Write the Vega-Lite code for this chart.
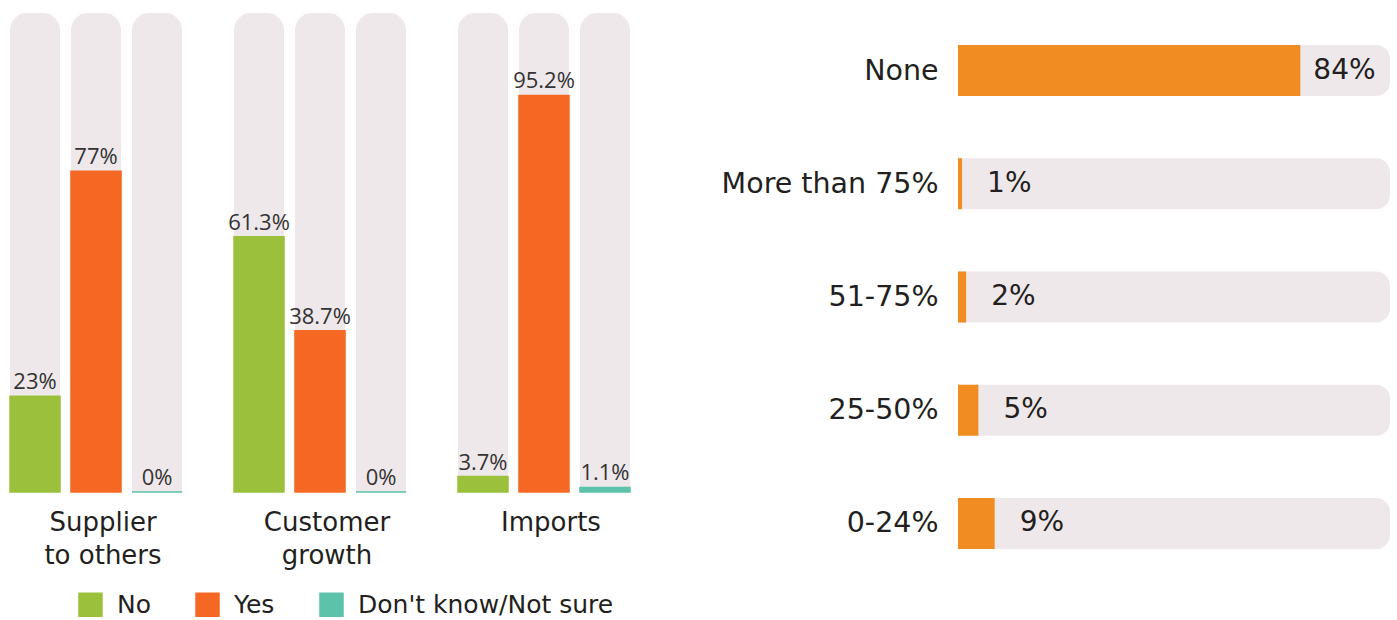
{
  "$schema": "https://vega.github.io/schema/vega-lite/v6.json",
  "padding": {"left": 0, "top": 13, "right": 0, "bottom": 0},
  "background": "white",
  "config": {"view": {"stroke": null}, "legend": {"padding": 0}},
  "bounds": "flush",
  "spacing": 318,
  "hconcat": [
    {
      "width": 640,
      "height": 479,
      "data": {
        "values": [
          {"group": "Supplier to others", "series": "No", "value": 23, "label": "23%"},
          {"group": "Supplier to others", "series": "Yes", "value": 77, "label": "77%"},
          {"group": "Supplier to others", "series": "Don't know/Not sure", "value": 0, "label": "0%"},
          {"group": "Customer growth", "series": "No", "value": 61.3, "label": "61.3%"},
          {"group": "Customer growth", "series": "Yes", "value": 38.7, "label": "38.7%"},
          {"group": "Customer growth", "series": "Don't know/Not sure", "value": 0, "label": "0%"},
          {"group": "Imports", "series": "No", "value": 3.7, "label": "3.7%"},
          {"group": "Imports", "series": "Yes", "value": 95.2, "label": "95.2%"},
          {"group": "Imports", "series": "Don't know/Not sure", "value": 1.1, "label": "1.1%"}
        ]
      },
      "encoding": {
        "x": {
          "field": "group",
          "type": "nominal",
          "sort": ["Supplier to others", "Customer growth", "Imports"],
          "scale": {"paddingInner": 0.232, "paddingOuter": 0.0446},
          "axis": {
            "title": null,
            "domain": false,
            "ticks": false,
            "labelAngle": 0,
            "labelBaseline": "top",
            "labelFont": "DejaVu Sans",
            "labelFontSize": 26,
            "labelColor": "#231F20",
            "labelLineHeight": 33,
            "labelPadding": 17,
            "labelOffset": 7,
            "labelExpr": "datum.label == 'Supplier to others' ? ['Supplier', 'to others'] : datum.label == 'Customer growth' ? ['Customer', 'growth'] : datum.label"
          }
        },
        "xOffset": {
          "field": "series",
          "type": "nominal",
          "sort": ["No", "Yes", "Don't know/Not sure"],
          "scale": {"paddingInner": 0.18, "paddingOuter": 0}
        }
      },
      "layer": [
        {
          "mark": {"type": "bar", "color": "#EEE8EA", "cornerRadiusTopLeft": 17, "cornerRadiusTopRight": 17},
          "encoding": {
            "y": {"datum": 115, "type": "quantitative", "scale": {"domain": [0, 115]}, "axis": null}
          }
        },
        {
          "mark": {"type": "bar", "strokeWidth": 1.5},
          "encoding": {
            "y": {"field": "value", "type": "quantitative", "scale": {"domain": [0, 115]}, "axis": null},
            "color": {
              "field": "series",
              "type": "nominal",
              "scale": {"domain": ["No", "Yes", "Don't know/Not sure"], "range": ["#9BC13C", "#F46824", "#5CC2AA"]},
              "legend": {
                "orient": "none",
                "legendX": 78,
                "legendY": 579,
                "direction": "horizontal",
                "title": null,
                "symbolType": "square",
                "symbolSize": 600,
                "symbolStrokeWidth": 0,
                "labelFont": "DejaVu Sans",
                "labelFontSize": 25,
                "labelColor": "#231F20",
                "labelOffset": 14,
                "labelLimit": 400,
                "columnPadding": 44
              }
            },
            "stroke": {
              "field": "series",
              "type": "nominal",
              "scale": {"domain": ["No", "Yes", "Don't know/Not sure"], "range": ["#9BC13C", "#F46824", "#5CC2AA"]},
              "legend": null
            }
          }
        },
        {
          "mark": {"type": "text", "baseline": "alphabetic", "dy": -7, "font": "Open Sans", "fontSize": 22, "color": "#333333"},
          "encoding": {
            "y": {"field": "value", "type": "quantitative", "scale": {"domain": [0, 115]}, "axis": null},
            "text": {"field": "label"}
          }
        }
      ]
    },
    {
      "width": 432,
      "height": 568,
      "data": {
        "values": [
          {"share": "None", "value": 84, "label": "84%"},
          {"share": "More than 75%", "value": 1, "label": "1%"},
          {"share": "51-75%", "value": 2, "label": "2%"},
          {"share": "25-50%", "value": 5, "label": "5%"},
          {"share": "0-24%", "value": 9, "label": "9%"}
        ]
      },
      "encoding": {
        "y": {
          "field": "share",
          "type": "nominal",
          "sort": ["None", "More than 75%", "51-75%", "25-50%", "0-24%"],
          "scale": {"paddingInner": 0.5497, "paddingOuter": 0.2826},
          "axis": {
            "title": null,
            "domain": false,
            "ticks": false,
            "labelPadding": 20,
            "labelLimit": 400,
            "labelFont": "DejaVu Sans",
            "labelFontSize": 28.5,
            "labelColor": "#231F20"
          }
        }
      },
      "layer": [
        {
          "mark": {"type": "bar", "color": "#EEE8EA", "cornerRadiusTopRight": 14, "cornerRadiusBottomRight": 14},
          "encoding": {
            "x": {"datum": 106, "type": "quantitative", "scale": {"domain": [0, 106]}, "axis": null}
          }
        },
        {
          "mark": {"type": "bar", "color": "#F08C22"},
          "encoding": {
            "x": {"field": "value", "type": "quantitative", "scale": {"domain": [0, 106]}, "axis": null}
          }
        },
        {
          "transform": [{"filter": "datum.share == 'None'"}],
          "mark": {"type": "text", "align": "left", "baseline": "middle", "dx": 13, "font": "DejaVu Sans", "fontSize": 28, "color": "#231F20"},
          "encoding": {
            "x": {"field": "value", "type": "quantitative", "scale": {"domain": [0, 106]}, "axis": null},
            "text": {"field": "label"}
          }
        },
        {
          "transform": [{"filter": "datum.share != 'None'"}],
          "mark": {"type": "text", "align": "left", "baseline": "middle", "dx": 25, "font": "DejaVu Sans", "fontSize": 28, "color": "#231F20"},
          "encoding": {
            "x": {"field": "value", "type": "quantitative", "scale": {"domain": [0, 106]}, "axis": null},
            "text": {"field": "label"}
          }
        }
      ]
    }
  ]
}
